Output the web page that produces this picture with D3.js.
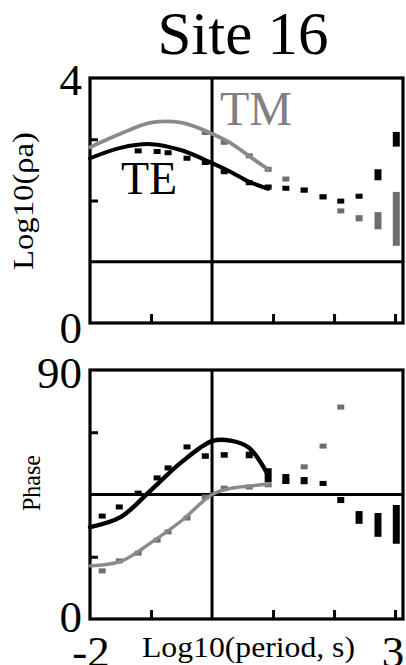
<!DOCTYPE html>
<html>
<head>
<meta charset="utf-8">
<script src="https://cdn.jsdelivr.net/npm/d3@7"></script>
<style>
  body { margin: 0; background: #fff; }
  text { font-family: "Liberation Serif", "Times New Roman", serif; }
</style>
</head>
<body>
<div id="chart-area"></div>
<script>
// model curves (log10 period, s)
const modelPeriods = [-2, -1.5, -1, -0.5, 0, 0.3, 0.6, 0.92];
const modelRhoTM = [2.87, 3.09, 3.27, 3.27, 3.09, 2.94, 2.73, 2.51];
const modelRhoTE = [2.69, 2.86, 2.92, 2.82, 2.61, 2.47, 2.31, 2.19];
const modelPhaseTE = [33.2, 36.8, 46.6, 56.7, 64.3, 64.5, 62.0, 52.0];
const modelPhaseTM = [19.2, 20.8, 27.6, 35.5, 45.0, 47.2, 48.0, 48.8];

// observed data
const dataPeriods = [-1.80, -1.52, -1.21, -0.90, -0.72, -0.41, -0.11, 0.20, 0.61, 0.92, 1.21, 1.51, 1.82, 2.11, 2.41, 2.72, 3.02];
const rhoTE    = [null, null, 2.81, 2.80, 2.78, 2.69, 2.62, 2.47, 2.29, 2.22, 2.20, 2.17, 2.06, 1.99, 2.07, 2.42, 3.00];
const rhoTEerr = [null, null, 0.02, 0.02, 0.02, 0.02, 0.02, 0.02, 0.02, 0.03, 0.03, 0.03, 0.03, 0.03, 0.04, 0.09, 0.12];
const rhoTM    = [null, null, null, null, null, null, 3.11, 2.95, 2.73, 2.51, 2.35, 2.17, 2.06, 1.83, 1.71, 1.67, 1.70];
const rhoTMerr = [null, null, null, null, null, null, 0.02, 0.02, 0.02, 0.03, 0.03, 0.04, 0.04, 0.03, 0.05, 0.14, 0.44];
const phaseTE    = [37.2, 40.5, 45.5, 51.0, 54.6, 62.2, 58.9, 59.3, 59.3, 52.0, 50.6, 50.0, 49.0, 43.0, 36.7, 34.0, 34.2];
const phaseTEerr = [0.8, 0.8, 0.8, 0.8, 0.8, 0.8, 1.0, 1.0, 1.2, 2.5, 1.8, 1.3, 0.9, 1.1, 2.3, 4.3, 7.0];
const phaseTM    = [17.4, 21.0, 23.8, 28.5, 31.5, 36.5, 44.1, 47.3, 47.7, 48.5, 50.0, 55.0, 62.5, 76.6, null, null, null];
const phaseTMerr = [0.5, 0.5, 0.5, 0.5, 0.5, 0.5, 0.5, 0.5, 0.5, 0.5, 0.6, 0.6, 0.6, 0.6, null, null, null];

const xTicks = [-1, 1, 2, 3];
const rhoTicks = [2, 3];
const phaseTicks = [22.5, 67.5];

const svgWidth = 406;
const svgHeight = 665;
const black = "#000";
const grey = "#8a8a8a";

const svg = d3.select("#chart-area")
              .append("svg")
              .attr("width", svgWidth)
              .attr("height", svgHeight);

const x = d3.scaleLinear().domain([-2, 3.13]).range([90, 403]);
const yRho = d3.scaleLinear().domain([0, 4]).range([323, 78]);
const yPhase = d3.scaleLinear().domain([0, 90]).range([619, 370]);

svg.append("text")
   .attr("x", 243)
   .attr("y", 54)
   .attr("text-anchor", "middle")
   .attr("font-size", 61)
   .text("Site 16");

function drawPanel(y, ticks, refValue, modelA, modelB, obs) {
  const g = svg.append("g");
  const [x0, x1] = x.range();
  const [y0, y1] = y.range();

  // inward ticks
  g.append("g")
   .attr("transform", `translate(0, ${y0})`)
   .call(d3.axisTop(x).tickValues(xTicks).tickSize(9).tickFormat(""))
   .call(a => a.select(".domain").remove())
   .selectAll("line").attr("stroke-width", 3);

  g.append("g")
   .attr("transform", `translate(${x0}, 0)`)
   .call(d3.axisRight(y).tickValues(ticks).tickSize(8).tickFormat(""))
   .call(a => a.select(".domain").remove())
   .selectAll("line").attr("stroke-width", 3);

  // reference lines
  g.append("line")
   .attr("x1", x0).attr("x2", x1)
   .attr("y1", y(refValue)).attr("y2", y(refValue))
   .attr("stroke", black).attr("stroke-width", 3);
  g.append("line")
   .attr("x1", x(0)).attr("x2", x(0))
   .attr("y1", y0).attr("y2", y1)
   .attr("stroke", black).attr("stroke-width", 3);

  // frame
  g.append("rect")
   .attr("x", x0).attr("y", y1)
   .attr("width", x1 - x0).attr("height", y0 - y1)
   .attr("fill", "none").attr("stroke", black).attr("stroke-width", 3.2);

  const line = d3.line()
                 .x((d, i) => x(modelPeriods[i]))
                 .y(d => y(d))
                 .curve(d3.curveCatmullRom);

  // observed points with error bars
  obs.forEach(s => {
    const pts = dataPeriods.map((p, i) => ({ p, v: s.values[i], e: s.errs[i] }))
                           .filter(d => d.v != null);
    g.selectAll(null)
     .data(pts)
     .enter()
     .append("rect")
       .attr("x", d => x(d.p) - 3.5)
       .attr("y", d => Math.min(y(d.v + d.e), y(d.v) - 2.5))
       .attr("width", 7)
       .attr("height", d => Math.max(y(d.v - d.e) - y(d.v + d.e), 5))
       .attr("fill", s.color);
  });

  [modelB, modelA].forEach(m => {
    g.append("path")
     .attr("d", line(m.values))
     .attr("fill", "none")
     .attr("stroke", m.color)
     .attr("stroke-width", m.width)
     .attr("stroke-linecap", "round");
  });
}

drawPanel(yRho, rhoTicks, 1,
  { values: modelRhoTE, color: black, width: 4 },
  { values: modelRhoTM, color: grey, width: 3.8 },
  [
    { values: rhoTM, errs: rhoTMerr, color: "#6e6e6e" },
    { values: rhoTE, errs: rhoTEerr, color: black }
  ]);

drawPanel(yPhase, phaseTicks, 45,
  { values: modelPhaseTE, color: black, width: 4.4 },
  { values: modelPhaseTM, color: grey, width: 3.4 },
  [
    { values: phaseTM, errs: phaseTMerr, color: "#6e6e6e" },
    { values: phaseTE, errs: phaseTEerr, color: black }
  ]);

// mode labels
svg.append("text")
   .attr("x", 220).attr("y", 125)
   .attr("font-size", 48)
   .attr("fill", "#808080")
   .text("TM");
svg.append("text")
   .attr("x", 121).attr("y", 194)
   .attr("font-size", 46)
   .attr("fill", black)
   .text("TE");

// axis numbers
const leftLabels = [
  { text: "4", y: yRho(4) + 17 },
  { text: "0", y: yRho(0) + 20 },
  { text: "90", y: yPhase(90) + 18 },
  { text: "0", y: yPhase(0) + 13 }
];
svg.selectAll(".left-label")
   .data(leftLabels)
   .enter()
   .append("text")
     .attr("class", "left-label")
     .attr("x", 82)
     .attr("y", d => d.y)
     .attr("text-anchor", "end")
     .attr("font-size", 45)
     .text(d => d.text);

svg.selectAll(".x-label-num")
   .data([-2, 3])
   .enter()
   .append("text")
     .attr("class", "x-label-num")
     .attr("x", d => x(d) - (d < 0 ? -1 : 2))
     .attr("y", 667)
     .attr("text-anchor", "middle")
     .attr("font-size", 45)
     .text(d => d);

svg.append("text")
   .attr("x", 142)
   .attr("y", 657)
   .attr("font-size", 30)
   .attr("textLength", 213)
   .attr("lengthAdjust", "spacingAndGlyphs")
   .text("Log10(period, s)");

svg.append("text")
   .attr("transform", "rotate(-90)")
   .attr("x", -270)
   .attr("y", 33)
   .attr("font-size", 30)
   .attr("textLength", 138)
   .attr("lengthAdjust", "spacingAndGlyphs")
   .text("Log10(ρa)");

svg.append("text")
   .attr("transform", "rotate(-90)")
   .attr("x", -511)
   .attr("y", 40)
   .attr("font-size", 26)
   .attr("textLength", 56)
   .attr("lengthAdjust", "spacingAndGlyphs")
   .text("Phase");
</script>
</body>
</html>
